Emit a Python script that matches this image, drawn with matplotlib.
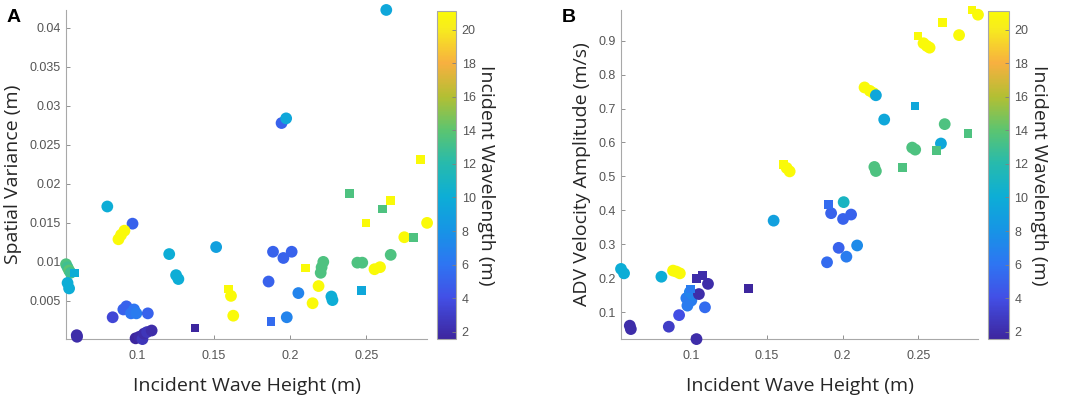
import numpy as np
import matplotlib.pyplot as plt
from matplotlib.colors import LinearSegmentedColormap
from matplotlib.ticker import FuncFormatter

# Panel A: spatial variance vs incident wave height, colour = incident wavelength
a_circ_x = [0.0805, 0.097, 0.0917, 0.0895, 0.0878,
            0.0535, 0.0545, 0.0555, 0.0565, 0.0545, 0.0555, 0.0605, 0.0607,
            0.084, 0.091, 0.093, 0.096, 0.098, 0.0995, 0.107,
            0.099, 0.1015, 0.1035, 0.1045, 0.1065, 0.1095,
            0.121, 0.1255, 0.127, 0.1517, 0.1614, 0.1629,
            0.186, 0.1979, 0.1889, 0.1957, 0.2011, 0.2055,
            0.2218, 0.2207, 0.2201, 0.2187, 0.2148, 0.2271, 0.2278,
            0.2441, 0.2473, 0.2553, 0.2589, 0.2659, 0.2748, 0.2897,
            0.263, 0.1945, 0.1975]
a_circ_y = [0.0171, 0.0149, 0.0140, 0.01346, 0.0129,
            0.0097, 0.0093, 0.0089, 0.0086, 0.0073, 0.0066, 0.0006, 0.0004,
            0.0029, 0.0039, 0.0043, 0.0034, 0.0039, 0.0034, 0.0034,
            0.0002, 0.0004, 0.0001, 0.0008, 0.0010, 0.0012,
            0.0110, 0.0083, 0.0078, 0.0119, 0.00564, 0.0031,
            0.00748, 0.0029, 0.0113, 0.0105, 0.0113, 0.0060,
            0.0100, 0.0093, 0.0086, 0.0069, 0.0047, 0.00556, 0.0051,
            0.0099, 0.0099, 0.00906, 0.00932, 0.0109, 0.01316, 0.0150,
            0.0423, 0.0278, 0.0284]
a_circ_c = [10, 5, 21.1, 21.1, 21.1,
            13.5, 13, 14, 13, 10, 10, 2, 2,
            3.5, 5, 5, 6, 6, 6.5, 5,
            1.6, 1.8, 2.5, 2, 2.5, 2,
            10, 10, 10, 9, 21.1, 21.1,
            5, 7, 5, 5, 5, 7,
            13.5, 13.5, 13.5, 21.1, 21.1, 10, 10,
            13.5, 13.5, 21.1, 21.1, 13.5, 21.1, 21.1,
            9.5, 5, 9.5]
a_sq_x = [0.059, 0.1378, 0.1597, 0.1876, 0.2102, 0.2388, 0.2468,
          0.2659, 0.2604, 0.2498, 0.2808, 0.2854]
a_sq_y = [0.0086, 0.0015, 0.0065, 0.00235, 0.0092, 0.0188, 0.0063,
          0.0179, 0.01676, 0.01496, 0.01316, 0.0231]
a_sq_c = [10, 1.56, 21.1, 5.5, 21.1, 13.5, 9.5,
          21.1, 13.5, 21.1, 13.5, 21.1]

# Panel B: ADV velocity amplitude vs incident wave height
b_circ_x = [0.0535, 0.0555, 0.0593, 0.060, 0.0802,
            0.0879, 0.0901, 0.0924, 0.0851, 0.0919,
            0.0974, 0.0967, 0.100, 0.101, 0.099, 0.109,
            0.111, 0.105, 0.1034, 0.1544, 0.2007,
            0.1924, 0.2003, 0.2056, 0.1974, 0.2025, 0.1897, 0.2096,
            0.163, 0.165, 0.2145, 0.218, 0.2205, 0.222, 0.2275,
            0.221, 0.222, 0.246, 0.248, 0.265, 0.2675,
            0.2535, 0.2557, 0.2575, 0.277, 0.2895]
b_circ_y = [0.228, 0.215, 0.061, 0.051, 0.205,
            0.223, 0.220, 0.215, 0.058, 0.092,
            0.120, 0.142, 0.135, 0.152, 0.160, 0.115,
            0.184, 0.154, 0.0215, 0.370, 0.4245,
            0.392, 0.375, 0.388, 0.290, 0.264, 0.2475, 0.297,
            0.525, 0.515, 0.762, 0.752, 0.745, 0.739, 0.6675,
            0.528, 0.516, 0.585, 0.579, 0.597, 0.654,
            0.892, 0.884, 0.879, 0.916, 0.976]
b_circ_c = [10, 10, 2, 2, 10,
            21.1, 21.1, 21.1, 3, 4,
            6.5, 6.5, 6.5, 7, 7, 5.5,
            2, 2, 2, 9, 11,
            5, 5, 5, 5, 6.5, 5.5, 7.5,
            21.1, 21.1, 21.1, 21.1, 21.1, 9.5, 9.5,
            13.5, 13.5, 13.5, 13.5, 9.5, 13.5,
            21.1, 21.1, 21.1, 21.1, 21.1]
b_sq_x = [0.1034, 0.1073, 0.0996, 0.1378, 0.161, 0.1908, 0.248,
          0.2396, 0.262, 0.2828, 0.2498, 0.2659, 0.2854]
b_sq_y = [0.199, 0.208, 0.169, 0.170, 0.535, 0.418, 0.707,
          0.526, 0.577, 0.626, 0.913, 0.953, 0.99]
b_sq_c = [2, 2, 6.5, 1.56, 21.1, 5.5, 9.5,
          13.5, 13.5, 13.5, 21.1, 21.1, 21.1]

cbar_ticks = [2, 4, 6, 8, 10, 12, 14, 16, 18, 20]

# parula-like colormap
parula = LinearSegmentedColormap.from_list("parula", [
    (0.000, (0.24, 0.15, 0.62)),
    (0.125, (0.26, 0.31, 0.90)),
    (0.228, (0.18, 0.46, 0.95)),
    (0.330, (0.09, 0.58, 0.90)),
    (0.433, (0.05, 0.68, 0.84)),
    (0.535, (0.15, 0.73, 0.68)),
    (0.638, (0.36, 0.77, 0.44)),
    (0.740, (0.70, 0.75, 0.20)),
    (0.843, (0.97, 0.69, 0.25)),
    (0.946, (0.97, 0.92, 0.12)),
    (1.000, (0.98, 0.98, 0.03)),
])

all_c = a_circ_c + a_sq_c + b_circ_c + b_sq_c
vmin, vmax = min(all_c), max(all_c)

plt.rcParams["font.family"] = ["Liberation Sans", "DejaVu Sans"]
label_font = ["Open Sans", "DejaVu Sans"]
grey = "#555555"

fig = plt.figure(figsize=(10.72, 3.98), dpi=100)
ax_a = fig.add_axes([0.0616, 0.148, 0.3368, 0.827])
cax_a = fig.add_axes([0.4076, 0.148, 0.0180, 0.824])
ax_b = fig.add_axes([0.5793, 0.148, 0.3330, 0.827])
cax_b = fig.add_axes([0.9216, 0.148, 0.0195, 0.824])


def panel(ax, cax, cx, cy, cc, sx, sy, sc, yticks, ylabel, letter):
    ax.scatter(cx, cy, c=cc, cmap=parula, vmin=vmin, vmax=vmax, s=72,
               marker="o", edgecolors="none", clip_on=False, zorder=3)
    sca = ax.scatter(sx, sy, c=sc, cmap=parula, vmin=vmin, vmax=vmax, s=38,
                     marker="s", edgecolors="none", clip_on=False, zorder=3)
    xs = cx + sx
    ys = cy + sy
    ax.set_xlim(min(xs), max(xs))
    ax.set_ylim(min(ys), max(ys))
    for side in ["top", "right"]:
        ax.spines[side].set_visible(False)
    for side in ["left", "bottom"]:
        ax.spines[side].set_color("#a8a8a8")
        ax.spines[side].set_linewidth(0.8)
    ax.set_xticks([0.1, 0.15, 0.2, 0.25])
    ax.set_yticks(yticks)
    fmt = FuncFormatter(lambda v, p: "%g" % round(v, 4))
    ax.xaxis.set_major_formatter(fmt)
    ax.yaxis.set_major_formatter(fmt)
    ax.tick_params(direction="in", length=3, width=0.6, color="#808080",
                   labelcolor=grey, labelsize=9)
    ax.tick_params(axis="x", pad=8)
    ax.tick_params(axis="y", pad=4)
    ax.set_xlabel("Incident Wave Height (m)", family=label_font, fontsize=14,
                  color="#262626", labelpad=11)
    ax.set_ylabel(ylabel, family=label_font, fontsize=14, color="#262626",
                  labelpad=5)
    ax.text(-0.165, 0.977, letter, transform=ax.transAxes, fontsize=14,
            fontweight="bold", va="center", ha="left")

    cb = fig.colorbar(sca, cax=cax)
    cb.set_ticks(cbar_ticks)
    cb.outline.set_edgecolor("#a8a8a8")
    cb.outline.set_linewidth(0.8)
    cax.tick_params(direction="in", length=3, width=0.6, color="#808080",
                    labelcolor=grey, labelsize=9, pad=4)
    cb.set_label("Incident Wavelength (m)", family=label_font, fontsize=14,
                 color="#262626", rotation=270, labelpad=14)


panel(ax_a, cax_a, a_circ_x, a_circ_y, a_circ_c, a_sq_x, a_sq_y, a_sq_c,
      [0.005, 0.01, 0.015, 0.02, 0.025, 0.03, 0.035, 0.04],
      "Spatial Variance (m)", "A")
panel(ax_b, cax_b, b_circ_x, b_circ_y, b_circ_c, b_sq_x, b_sq_y, b_sq_c,
      [0.1, 0.2, 0.3, 0.4, 0.5, 0.6, 0.7, 0.8, 0.9],
      "ADV Velocity Amplitude (m/s)", "B")

fig.savefig("out.png", dpi=100)
